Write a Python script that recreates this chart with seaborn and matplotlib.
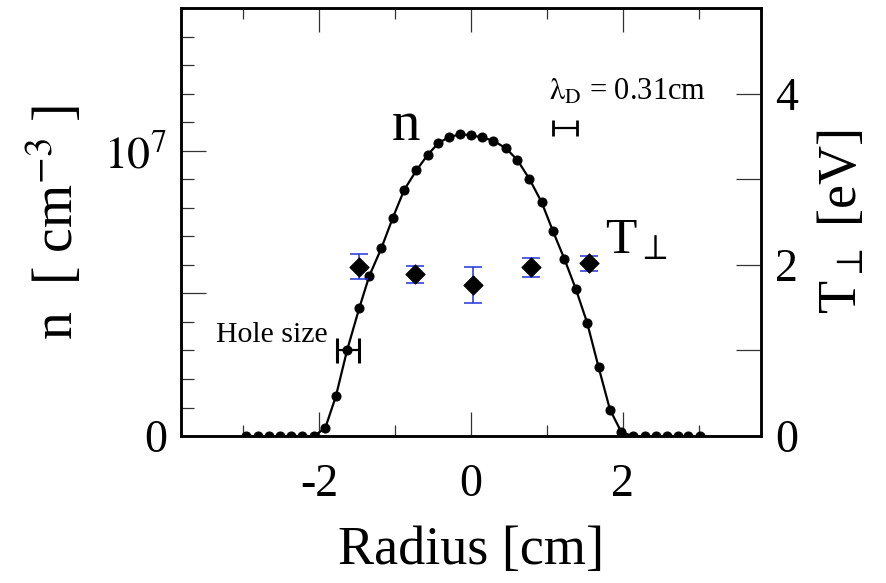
import numpy as np
import pandas as pd
import matplotlib
matplotlib.use("Agg")
import matplotlib.pyplot as plt
import seaborn as sns
from matplotlib.ticker import FixedLocator, MultipleLocator

# ---- data ----
radius_cm = [-2.96, -2.81, -2.66, -2.52, -2.37, -2.22, -2.07,
             -1.92, -1.78, -1.63, -1.47, -1.34, -1.18, -1.03, -0.88, -0.72,
             -0.57, -0.43, -0.29, -0.14, -0.005, 0.14, 0.29, 0.46, 0.61,
             0.77, 0.93, 1.08, 1.23, 1.38, 1.53, 1.68, 1.83, 1.98,
             2.13, 2.29, 2.43, 2.58, 2.72, 2.86, 3.01]
density_1e6 = [0, 0, 0, 0, 0, 0, 0,
               0.28, 1.39, 3.03, 4.50, 5.61, 6.59, 7.65, 8.63, 9.31,
               9.86, 10.27, 10.48, 10.58, 10.55, 10.47, 10.36, 10.09, 9.68,
               9.01, 8.20, 7.18, 6.21, 5.16, 3.97, 2.42, 0.93, 0.14,
               0, 0, 0, 0, 0, 0, 0]

t_radius = [-1.48, -0.74, 0.02, 0.79, 1.56]
t_perp_ev = [1.98, 1.89, 1.76, 1.97, 2.02]
t_err_ev = [0.145, 0.10, 0.21, 0.11, 0.09]

hole_x, hole_n, hole_half = -1.62, 3.03e6, 0.15
debye_x, debye_n, debye_half = 1.24, 1.081e7, 0.155

x_ticks_major = [-2, 0, 2]
x_tick_labels = ["-2", "0", "2"]
n_ticks_major = [0, 5e6, 1e7]
n_tick_labels = ["0", "", "$10^7$"]
t_ticks = [0, 1, 2, 3, 4]
t_tick_labels = ["0", "", "2", "", "4"]

df_n = pd.DataFrame({"r": radius_cm, "n": np.array(density_1e6) * 1e6})
df_t = pd.DataFrame({"r": t_radius, "T": t_perp_ev, "err": t_err_ev})

# ---- style ----
sns.set_style("ticks")
plt.rcParams["font.family"] = ["Liberation Serif", "DejaVu Serif"]
plt.rcParams["mathtext.fontset"] = "stix"
plt.rcParams["axes.unicode_minus"] = False
plt.rcParams["text.color"] = "black"
plt.rcParams["axes.labelcolor"] = "black"
plt.rcParams["xtick.labelcolor"] = "black"
plt.rcParams["ytick.labelcolor"] = "black"

fig = plt.figure(figsize=(8.87, 5.83), dpi=100)
ax = fig.add_axes([0.204, 0.252, 0.654, 0.734])
ax2 = ax.twinx()

# density curve
sns.lineplot(data=df_n, x="r", y="n", ax=ax, color="black", linewidth=1.6,
             marker="o", markersize=6.5, markeredgecolor="black", estimator=None,
             sort=False, legend=False)

# hole size & Debye length markers
ax.errorbar(hole_x, hole_n, xerr=hole_half, fmt="none", ecolor="black",
            elinewidth=1.6, capsize=9, capthick=2.2)
ax.errorbar(debye_x, debye_n, xerr=debye_half, fmt="none", ecolor="black",
            elinewidth=1.6, capsize=6, capthick=2.0)

# temperature
ax2.errorbar(df_t["r"], df_t["T"], yerr=df_t["err"], fmt="none",
             ecolor="#2233dd", elinewidth=1.1, capsize=6.5, capthick=1.1)
sns.scatterplot(data=df_t, x="r", y="T", ax=ax2, marker="D", s=95,
                color="black", edgecolor="black", legend=False, zorder=5)

# limits
ax.set_xlim(-3.82, 3.82)
ax.set_ylim(0, 1.5e7)
ax2.set_ylim(0, 5)

# ticks
ax.xaxis.set_major_locator(FixedLocator(x_ticks_major))
ax.set_xticklabels(x_tick_labels)
ax.xaxis.set_minor_locator(MultipleLocator(1))
ax.yaxis.set_major_locator(FixedLocator(n_ticks_major))
ax.set_yticklabels(n_tick_labels)
ax.yaxis.set_minor_locator(MultipleLocator(1e6))
ax2.yaxis.set_major_locator(FixedLocator(t_ticks))
ax2.set_yticklabels(t_tick_labels)

ax.tick_params(axis="x", which="both", direction="in", top=True, bottom=True,
               labelsize=33, pad=20, width=0.9, color="#333333",
               labelcolor="black")
ax.tick_params(axis="x", which="major", length=17)
ax.tick_params(axis="x", which="minor", length=8)
ax.tick_params(axis="y", which="both", direction="in", left=True, right=False,
               labelsize=33, pad=10, width=0.9, color="#333333",
               labelcolor="black")
ax.tick_params(axis="y", which="major", length=18)
ax.tick_params(axis="y", which="minor", length=9)
ax2.tick_params(axis="y", which="major", direction="in", length=18,
                labelsize=33, pad=10, width=0.9, color="#333333",
                labelcolor="black")

for a in (ax, ax2):
    for s in a.spines.values():
        s.set_linewidth(1.8)
        s.set_color("black")
        s.set_visible(True)

# labels
ax.set_xlabel("Radius [cm]", fontsize=39, color="black")
ax.set_ylabel(r"n  [ cm$^{-3}$ ]", fontsize=40, color="black")
ax2.set_ylabel(r"T$_{\perp}$ [eV]", fontsize=39, color="black")
ax.xaxis.set_label_coords(0.5, -0.21)
ax.yaxis.set_label_coords(-0.166, 0.5)
ax2.yaxis.set_label_coords(1.098, 0.5)

# annotations
ax.text(-1.05, 1.039e7, "n", fontsize=41, ha="left", va="baseline",
        color="black")
ax2.text(1.76, 2.14, r"T$_{\perp}$", fontsize=37, ha="left", va="baseline",
         color="black")
ax.text(-3.36, 0.33e7, "Hole size", fontsize=21.5, ha="left", va="baseline",
        color="black")
ax.text(1.03, 1.179e7, r"$\mathrm{\lambda}_\mathrm{D}$ = 0.31cm", fontsize=22,
        ha="left", va="baseline", color="black")

fig.savefig("out.png", dpi=100)
